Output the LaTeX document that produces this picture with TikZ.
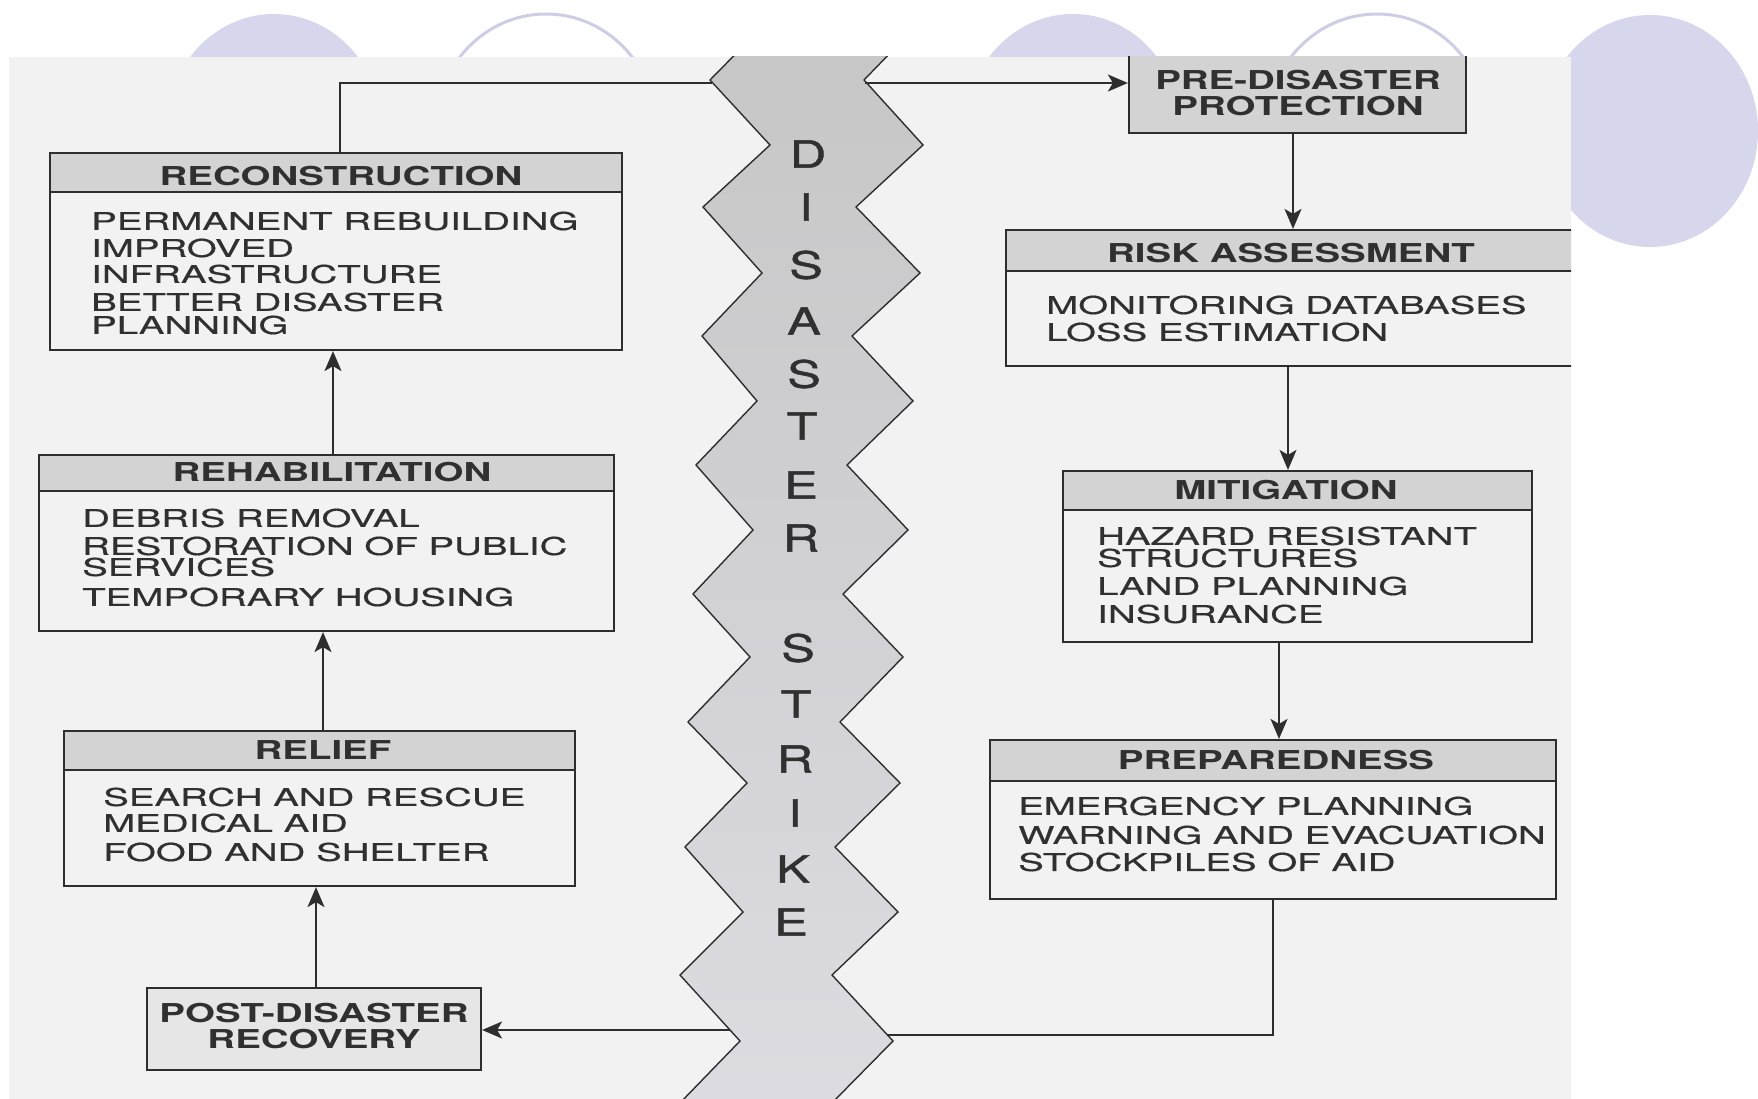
\documentclass[tikz,border=0pt]{standalone}
\usepackage{fontspec}
\usetikzlibrary{arrows.meta,calc}
\newfontfamily\hdrfont[FakeStretch=1.48]{TeX Gyre Heros}
\newfontfamily\bodyfont[FakeStretch=1.57,FakeBold=0.5]{TeX Gyre Heros}
\newfontfamily\bigfont[FakeStretch=1.35,FakeBold=1.2]{TeX Gyre Heros}
\definecolor{lav}{HTML}{D6D6EC}
\definecolor{lavline}{HTML}{CDCDE6}
\definecolor{scanbg}{HTML}{F2F2F2}
\definecolor{hdrgray}{HTML}{D3D3D3}
\definecolor{postgray}{HTML}{E6E6E6}
\definecolor{ink}{HTML}{2E2E2E}
\definecolor{txt}{HTML}{303030}
\definecolor{bandtop}{HTML}{C6C6C6}
\definecolor{bandbot}{HTML}{DCDCE2}
\begin{document}
\begin{tikzpicture}[x=1pt,y=-1pt,
  boxnode/.style={draw=ink,line width=2.2pt,rectangle,inner sep=0pt},
  sepline/.style={draw=ink,line width=2pt},
  hdr/.style={font=\hdrfont\bfseries\fontsize{26}{26}\selectfont,text=txt,inner sep=0pt},
  body/.style={font=\bodyfont\fontsize{24.5}{24.5}\selectfont,text=txt,inner sep=0pt,anchor=west},
  big/.style={font=\bigfont\fontsize{37.5}{37.5}\selectfont,text=txt,inner sep=0pt},
  conn/.style={draw=ink,line width=1.8pt},
  arr/.style={conn,-{Stealth[length=20pt,width=17pt,inset=5pt]}},
]
\useasboundingbox (0,0) rectangle (1758,1099);
\fill[white] (0,0) rectangle (1758,1099);
% slide circles
\fill[lav] (274,130) ellipse [x radius=108pt, y radius=116pt];
\draw[lavline,line width=3pt,fill=white] (546,128) ellipse [x radius=110pt, y radius=114pt];
\fill[lav] (1073,130) ellipse [x radius=108pt, y radius=116pt];
\draw[lavline,line width=3pt,fill=white] (1377,128) ellipse [x radius=110pt, y radius=114pt];
\fill[lav] (1650,131) ellipse [x radius=108pt, y radius=116pt];
% scanned area
\fill[scanbg] (9,57) rectangle (1571,1099);
\begin{scope}
\clip (9,57) rectangle (1571,1099);
% zigzag band
\shade[top color=bandtop,bottom color=bandbot,draw=ink,line width=1.4pt]
 (773,16) -- (710,80) -- (770,145) -- (703,207) -- (762,273) -- (702,336) -- (757,401) -- (696,465) -- (753,530) -- (693,594) -- (750,657) -- (688,722) -- (747,783) -- (685,847) -- (743,912) -- (680,975) -- (740,1041) -- (678,1105) -- (678,1130)
 -- (830,1130) -- (830,1105) -- (893,1041) -- (832,975) -- (898,912) -- (835,847) -- (900,783) -- (840,722) -- (903,657) -- (843,594) -- (908,530) -- (847,465) -- (913,401) -- (852,336) -- (920,273) -- (856,207) -- (923,145) -- (864,80) -- (926,16) -- cycle;
\coordinate (bandTL) at (712,83);
\coordinate (bandTR) at (865,83);
\coordinate (bandBL) at (730,1030);
\coordinate (bandBR) at (887,1035);
% letters
\foreach \ch/\xx/\yy [count=\i] in {D/808/154,I/806/207,S/806/265,A/804/321,S/804/374,T/802/426,E/801/485,R/801/538,S/798/648,T/796/704,R/795/759,I/795/813,K/793/869,E/791/922}
  \node[big] (L\i) at (\xx,\yy) {\ch};
% RECONSTRUCTION
\fill[hdrgray] (50,153) rectangle (622,192);
\node[boxnode,minimum width=572pt,minimum height=197pt] (recon) at (336,251.5) {};
\draw[sepline] (50,192) -- (622,192);
\node[hdr] (reconH) at (341,176) {RECONSTRUCTION};
\node[body] (recon1) at (91,221) {PERMANENT REBUILDING};
\node[body] (recon2) at (91,248) {IMPROVED};
\node[body] (recon3) at (91,274) {INFRASTRUCTURE};
\node[body] (recon4) at (91,302) {BETTER DISASTER};
\node[body] (recon5) at (91,325) {PLANNING};
% REHABILITATION
\fill[hdrgray] (39,455) rectangle (614,491);
\node[boxnode,minimum width=575pt,minimum height=176pt] (rehab) at (326.5,543) {};
\draw[sepline] (39,491) -- (614,491);
\node[hdr] (rehabH) at (332,472) {REHABILITATION};
\node[body] (rehab1) at (82,518) {DEBRIS REMOVAL};
\node[body] (rehab2) at (82,546) {RESTORATION OF PUBLIC};
\node[body] (rehab3) at (82,567) {SERVICES};
\node[body] (rehab4) at (82,597) {TEMPORARY HOUSING};
% RELIEF
\fill[hdrgray] (64,731) rectangle (575,770);
\node[boxnode,minimum width=511pt,minimum height=155pt] (relief) at (319.5,808.5) {};
\draw[sepline] (64,770) -- (575,770);
\node[hdr] (reliefH) at (323,750) {RELIEF};
\node[body] (relief1) at (103,797) {SEARCH AND RESCUE};
\node[body] (relief2) at (103,823) {MEDICAL AID};
\node[body] (relief3) at (103,852) {FOOD AND SHELTER};
% POST-DISASTER
\node[boxnode,fill=postgray,minimum width=334pt,minimum height=82pt] (post) at (314,1029) {};
\node[hdr] (post1) at (314,1013) {POST-DISASTER};
\node[hdr] (post2) at (314,1039) {RECOVERY};
% PRE-DISASTER
\node[boxnode,fill=hdrgray,minimum width=337pt,minimum height=93pt] (pre) at (1297.5,86.5) {};
\node[hdr] (pre1) at (1298,80) {PRE-DISASTER};
\node[hdr] (pre2) at (1298,106) {PROTECTION};
% RISK
\fill[hdrgray] (1006,230) rectangle (1590,271);
\node[boxnode,minimum width=584pt,minimum height=136pt] (risk) at (1298,298) {};
\draw[sepline] (1006,271) -- (1590,271);
\node[hdr] (riskH) at (1291,253) {RISK ASSESSMENT};
\node[body] (risk1) at (1046,305) {MONITORING DATABASES};
\node[body] (risk2) at (1046,332) {LOSS ESTIMATION};
% MITIGATION
\fill[hdrgray] (1063,471) rectangle (1532,510);
\node[boxnode,minimum width=469pt,minimum height=171pt] (mit) at (1297.5,556.5) {};
\draw[sepline] (1063,510) -- (1532,510);
\node[hdr] (mitH) at (1286,490) {MITIGATION};
\node[body] (mit1) at (1097,536) {HAZARD RESISTANT};
\node[body] (mit2) at (1097,558) {STRUCTURES};
\node[body] (mit3) at (1097,586) {LAND PLANNING};
\node[body] (mit4) at (1097,614) {INSURANCE};
% PREPAREDNESS
\fill[hdrgray] (990,740) rectangle (1556,781);
\node[boxnode,minimum width=566pt,minimum height=159pt] (prep) at (1273,819.5) {};
\draw[sepline] (990,781) -- (1556,781);
\node[hdr] (prepH) at (1276,760) {PREPAREDNESS};
\node[body] (prep1) at (1018,806) {EMERGENCY PLANNING};
\node[body] (prep2) at (1018,835) {WARNING AND EVACUATION};
\node[body] (prep3) at (1018,862) {STOCKPILES OF AID};
% connectors
\coordinate (cRecon) at ([xshift=4pt]recon.north);
\draw[conn] (cRecon) |- (bandTL);
\draw[arr] (bandTR) -- (pre.west |- bandTR);
\coordinate (cPre) at ([xshift=-4.5pt]pre.south);
\draw[arr] (cPre) -- (cPre |- risk.north);
\coordinate (cRisk) at ([xshift=-10pt]risk.south);
\draw[arr] (cRisk) -- (cRisk |- mit.north);
\coordinate (cMit) at ([xshift=-18.5pt]mit.south);
\draw[arr] (cMit) -- (cMit |- prep.north);
\draw[conn] (prep.south) |- (bandBR);
\draw[arr] (bandBL) -- (post.east |- bandBL);
\coordinate (cPost) at ([xshift=2pt]post.north);
\draw[arr] (cPost) -- (cPost |- relief.south);
\coordinate (cRelief) at ([xshift=3.5pt]relief.north);
\draw[arr] (cRelief) -- (cRelief |- rehab.south);
\coordinate (cRehab) at ([xshift=6.5pt]rehab.north);
\draw[arr] (cRehab) -- (cRehab |- recon.south);
\end{scope}
\end{tikzpicture}
\end{document}
